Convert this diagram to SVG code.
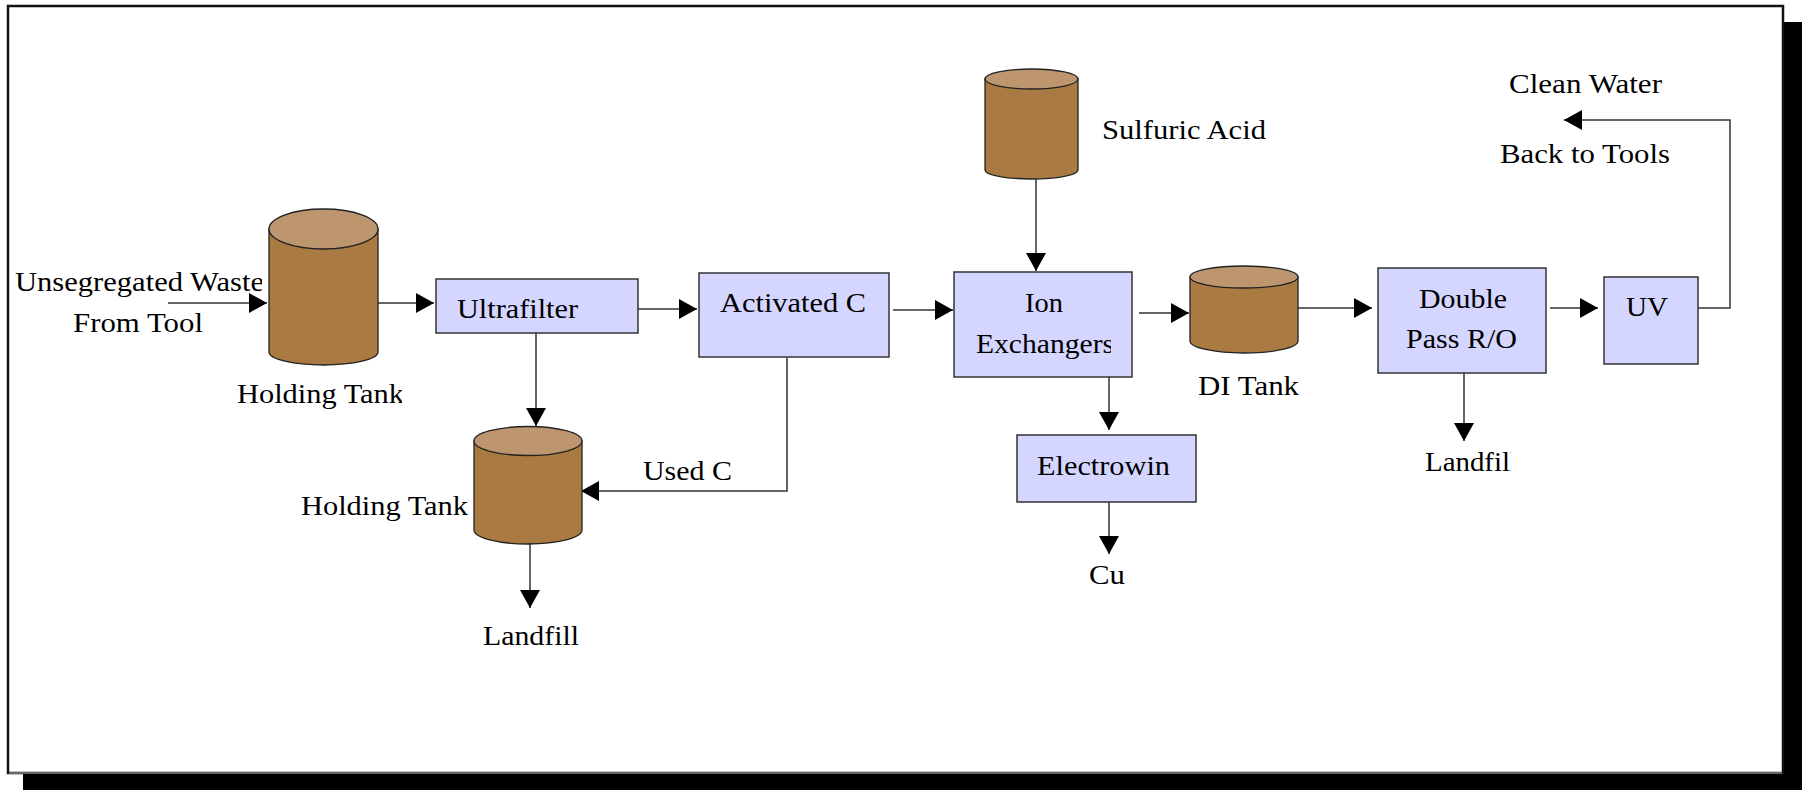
<svg xmlns="http://www.w3.org/2000/svg" width="1807" height="790" viewBox="0 0 1807 790">
  <style>
    .lbl { font-family: "Liberation Serif", "Times New Roman", serif; font-size: 27px; fill: #000; }
    .box { fill: #D5D6FF; stroke: #333; stroke-width: 1.5; }
    .body { fill: #A97A42; stroke: #222; stroke-width: 1.3; }
    .lid { fill: #BD9670; stroke: #222; stroke-width: 1.3; }
    .flow { fill: none; stroke: #333; stroke-width: 1.5; marker-end: url(#head); }
  </style>
  <defs>
    <marker id="head" viewBox="0 0 18 20" refX="18" refY="10" markerWidth="18" markerHeight="20" markerUnits="userSpaceOnUse" orient="auto">
      <path d="M0,0 L18,10 L0,20 Z" fill="#000"/>
    </marker>
    <clipPath id="clipWaste"><rect x="0" y="250" width="262" height="60"/></clipPath>
    <clipPath id="clipTank1"><rect x="220" y="370" width="182" height="50"/></clipPath>
    <clipPath id="clipExch"><rect x="960" y="320" width="151" height="45"/></clipPath>
    <clipPath id="clipFill2"><rect x="1415" y="440" width="96" height="45"/></clipPath>
  </defs>

  <!-- page frame with drop shadow -->
  <rect x="23" y="22" width="1779" height="768" fill="#000"/>
  <rect x="8" y="6" width="1775" height="767" fill="#fff" stroke="#111" stroke-width="2.5"/>
  <line x1="9" y1="773" x2="1782" y2="773" stroke="#bbb" stroke-width="1"/>

  <!-- connectors -->
  <g id="connectors">
    <path class="flow" d="M168,303 H267"/>
    <path class="flow" d="M378,303 H434"/>
    <path class="flow" d="M638,309 H697"/>
    <path class="flow" d="M893,310 H953"/>
    <path class="flow" d="M1036,179 V271"/>
    <path class="flow" d="M1139,313 H1189"/>
    <path class="flow" d="M1298,308 H1372"/>
    <path class="flow" d="M1550,308 H1598"/>
    <path class="flow" d="M1698,308 H1730 V120 H1564"/>
    <path class="flow" d="M536,333 V426"/>
    <path class="flow" d="M787,358 V491 H581"/>
    <path class="flow" d="M530,544 V608"/>
    <path class="flow" d="M1109,377 V430"/>
    <path class="flow" d="M1109,502 V554"/>
    <path class="flow" d="M1464,373 V441"/>
  </g>

  <!-- free labels -->
  <g id="source-label">
    <text class="lbl" x="15" y="291" textLength="249" lengthAdjust="spacingAndGlyphs" clip-path="url(#clipWaste)">Unsegregated Waste</text>
    <text class="lbl" x="73" y="332" textLength="130" lengthAdjust="spacingAndGlyphs">From Tool</text>
  </g>

  <g id="holding-tank-1">
    <path class="body" d="M269,229 V352 A54.5,13 0 0 0 378,352 V229 Z"/>
    <ellipse class="lid" cx="323.5" cy="229" rx="54.5" ry="20"/>
    <text class="lbl" x="237" y="403" textLength="167" lengthAdjust="spacingAndGlyphs" clip-path="url(#clipTank1)">Holding Tank</text>
  </g>

  <g id="ultrafilter">
    <rect class="box" x="436" y="279" width="202" height="54"/>
    <text class="lbl" x="457" y="318" textLength="121" lengthAdjust="spacingAndGlyphs">Ultrafilter</text>
  </g>

  <g id="activated-c">
    <rect class="box" x="699" y="273" width="190" height="84"/>
    <text class="lbl" x="720" y="312" textLength="146" lengthAdjust="spacingAndGlyphs">Activated C</text>
  </g>

  <g id="holding-tank-2">
    <path class="body" d="M474,441 V530 A54,14 0 0 0 582,530 V441 Z"/>
    <ellipse class="lid" cx="528" cy="441" rx="54" ry="14.5"/>
    <text class="lbl" x="301" y="515" textLength="167" lengthAdjust="spacingAndGlyphs">Holding Tank</text>
  </g>

  <g id="used-c-label">
    <text class="lbl" x="643" y="480" textLength="89" lengthAdjust="spacingAndGlyphs">Used C</text>
  </g>

  <g id="landfill-1">
    <text class="lbl" x="483" y="645" textLength="96" lengthAdjust="spacingAndGlyphs">Landfill</text>
  </g>

  <g id="sulfuric-acid">
    <path class="body" d="M985,79 V170 A46.5,9 0 0 0 1078,170 V79 Z"/>
    <ellipse class="lid" cx="1031.5" cy="79" rx="46.5" ry="10"/>
    <text class="lbl" x="1102" y="139" textLength="164" lengthAdjust="spacingAndGlyphs">Sulfuric Acid</text>
  </g>

  <g id="ion-exchangers">
    <rect class="box" x="954" y="272" width="178" height="105"/>
    <text class="lbl" x="1025" y="312" textLength="38" lengthAdjust="spacingAndGlyphs">Ion</text>
    <text class="lbl" x="976" y="353" textLength="138" lengthAdjust="spacingAndGlyphs" clip-path="url(#clipExch)">Exchangers</text>
  </g>

  <g id="electrowin">
    <rect class="box" x="1017" y="435" width="179" height="67"/>
    <text class="lbl" x="1037" y="475" textLength="133" lengthAdjust="spacingAndGlyphs">Electrowin</text>
  </g>

  <g id="cu">
    <text class="lbl" x="1089" y="584" textLength="36" lengthAdjust="spacingAndGlyphs">Cu</text>
  </g>

  <g id="di-tank">
    <path class="body" d="M1190,277 V341 A54,12 0 0 0 1298,341 V277 Z"/>
    <ellipse class="lid" cx="1244" cy="277" rx="54" ry="11"/>
    <text class="lbl" x="1198" y="395" textLength="101" lengthAdjust="spacingAndGlyphs">DI Tank</text>
  </g>

  <g id="double-pass-ro">
    <rect class="box" x="1378" y="268" width="168" height="105"/>
    <text class="lbl" x="1419" y="308" textLength="88" lengthAdjust="spacingAndGlyphs">Double</text>
    <text class="lbl" x="1406" y="348" textLength="111" lengthAdjust="spacingAndGlyphs">Pass R/O</text>
  </g>

  <g id="landfill-2">
    <text class="lbl" x="1425" y="471" textLength="93" lengthAdjust="spacingAndGlyphs" clip-path="url(#clipFill2)">Landfill</text>
  </g>

  <g id="uv">
    <rect class="box" x="1604" y="277" width="94" height="87"/>
    <text class="lbl" x="1626" y="316" textLength="42" lengthAdjust="spacingAndGlyphs">UV</text>
  </g>

  <g id="clean-water">
    <text class="lbl" x="1509" y="93" textLength="153" lengthAdjust="spacingAndGlyphs">Clean Water</text>
    <text class="lbl" x="1500" y="163" textLength="170" lengthAdjust="spacingAndGlyphs">Back to Tools</text>
  </g>
</svg>
